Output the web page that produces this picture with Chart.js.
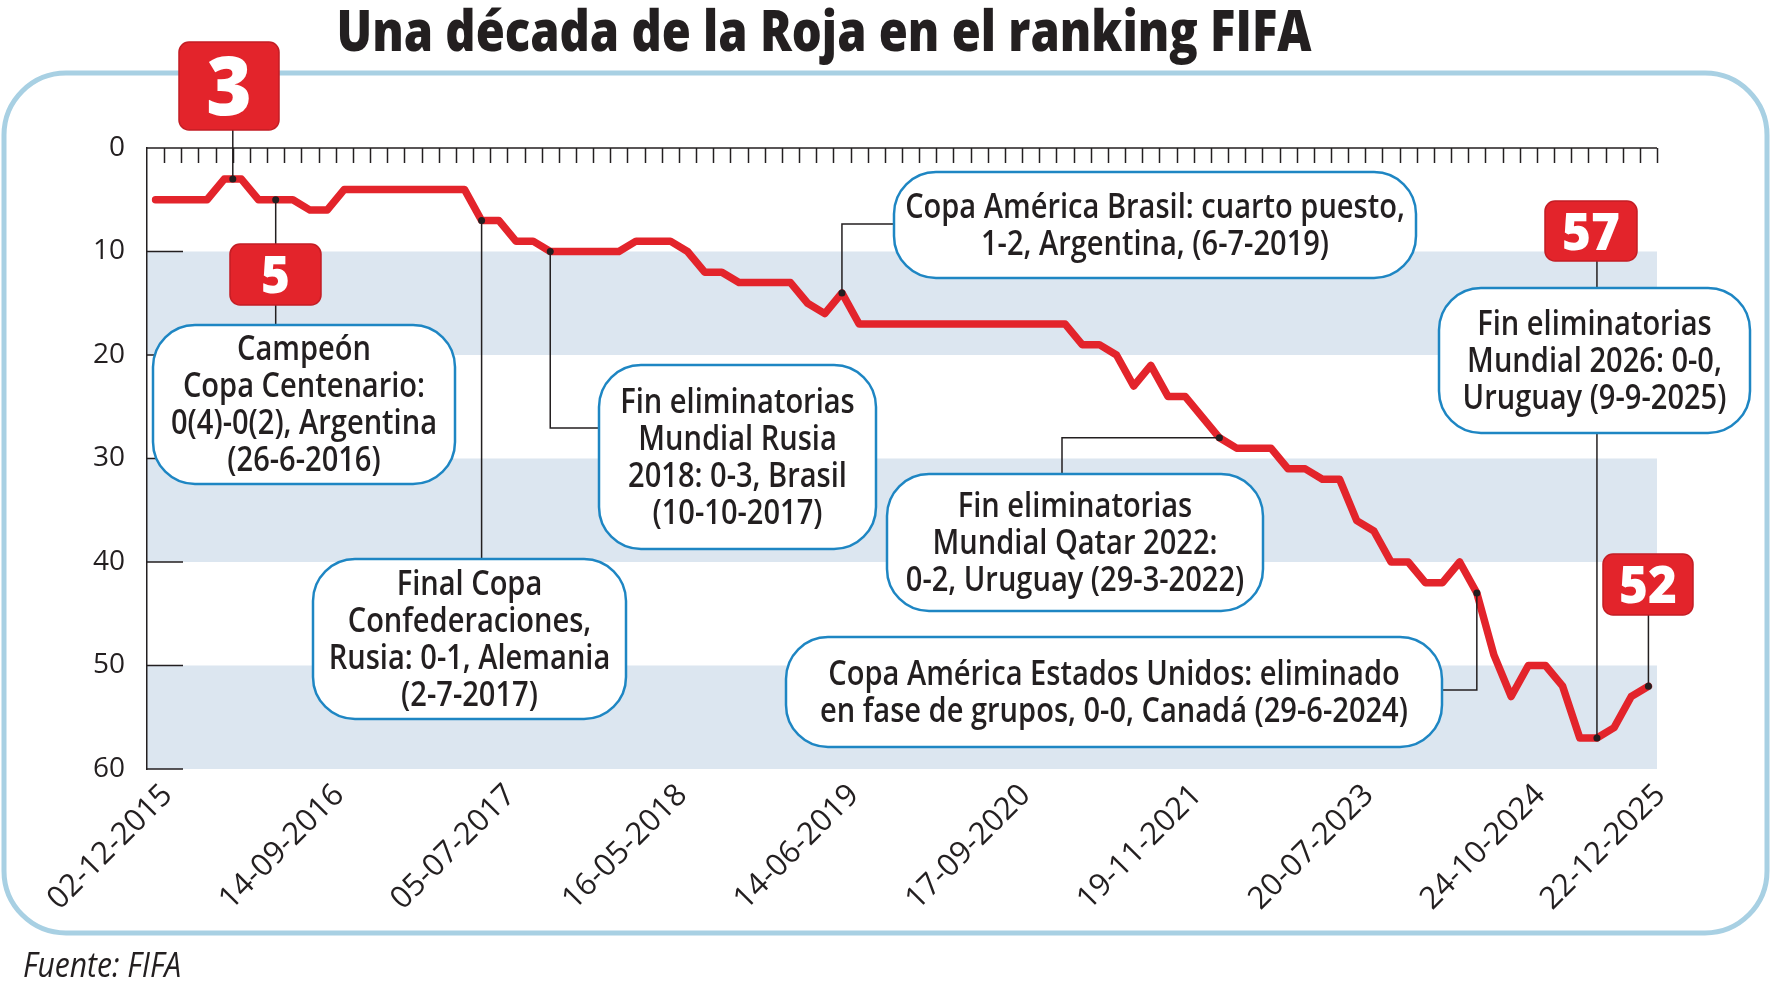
<!DOCTYPE html>
<html>
<head>
<meta charset="utf-8">
<script src="https://cdn.jsdelivr.net/npm/chart.js@4.4.1/dist/chart.umd.min.js"></script>
<style>
  html, body { margin: 0; padding: 0; background: #fff; }
  canvas { display: block; }
</style>
</head>
<body>
<canvas id="ranking" width="1774" height="988"></canvas>
<script>
// Ranking FIFA de Chile, una entrada por publicación del ranking
const ranking = [
  5, 5, 5, 5, 3, 3, 5, 5, 5, 6,
  6, 4, 4, 4, 4, 4, 4, 4, 4, 7,
  7, 9, 9, 10, 10, 10, 10, 10, 9, 9,
  9, 10, 12, 12, 13, 13, 13, 13, 15, 16,
  14, 17, 17, 17, 17, 17, 17, 17, 17, 17,
  17, 17, 17, 17, 19, 19, 20, 23, 21, 24,
  24, 26, 28, 29, 29, 29, 31, 31, 32, 32,
  36, 37, 40, 40, 42, 42, 40, 43, 49, 53,
  50, 50, 52, 57, 57, 56, 53, 52
];
const tickDates = ['02-12-2015', '14-09-2016', '05-07-2017', '16-05-2018', '14-06-2019',
  '17-09-2020', '19-11-2021', '20-07-2023', '24-10-2024', '22-12-2025'];
const tickIndex = [0, 10, 20, 30, 40, 50, 60, 70, 80, 87];
const yTicks = [0, 10, 20, 30, 40, 50, 60];
const shadedBands = [[10, 20], [30, 40], [50, 60]];

const title = 'Una década de la Roja en el ranking FIFA';
const source = 'Fuente: FIFA';

// textos de los recuadros
const calloutTexts = [
  ['Campeón', 'Copa Centenario:', '0(4)-0(2), Argentina', '(26-6-2016)'],
  ['Final Copa', 'Confederaciones,', 'Rusia: 0-1, Alemania', '(2-7-2017)'],
  ['Fin eliminatorias', 'Mundial Rusia', '2018: 0-3, Brasil', '(10-10-2017)'],
  ['Copa América Brasil: cuarto puesto,', '1-2, Argentina, (6-7-2019)'],
  ['Fin eliminatorias', 'Mundial Qatar 2022:', '0-2, Uruguay (29-3-2022)'],
  ['Copa América Estados Unidos: eliminado', 'en fase de grupos, 0-0, Canadá (29-6-2024)'],
  ['Fin eliminatorias', 'Mundial 2026: 0-0,', 'Uruguay (9-9-2025)']
];

const labels = ranking.map((_, i) => {
  const k = tickIndex.indexOf(i);
  return k >= 0 ? tickDates[k] : '';
});

const ink = '#231f20';
const red = '#e3242b';
const blue = '#1e86c3';
const bandColor = '#dce6f0';
const frameBlue = '#a8d0e3';
const FONT = '"Open Sans", "Noto Sans", sans-serif';
const SQUEEZE = 0.86;

function squeezed(ctx, s, x, y, font, sx, align) {
  ctx.save();
  ctx.font = font;
  ctx.textAlign = align || 'center';
  ctx.textBaseline = 'alphabetic';
  ctx.translate(x, y);
  ctx.scale(sx, 1);
  ctx.fillText(s, 0, 0);
  ctx.restore();
}

// layout of the notes (pixels), anchors come from the data
const callouts = [
  { rect: [153, 325, 302, 159] },
  { rect: [313, 559, 313, 160] },
  { rect: [599, 365, 277, 184] },
  { rect: [894, 172, 522, 106] },
  { rect: [887, 474, 376, 137] },
  { rect: [786, 637, 656, 110] },
  { rect: [1439, 288, 311, 145] }
];
const tags = [
  { idx: 4, rect: [179, 42, 100, 88], size: 82 },
  { idx: 7, rect: [230, 244, 91, 61], size: 52 },
  { idx: 84, rect: [1545, 201, 92, 60], size: 52 },
  { idx: 87, rect: [1603, 554, 90, 61], size: 52 }
];
const leaders = [
  { idx: 4.5, val: 4, steps: [['v', 130]] },
  { idx: 7, steps: [['v', 325]] },
  { idx: 19, steps: [['v', 559]] },
  { idx: 23, steps: [['v', 428], ['h', 599]] },
  { idx: 40, steps: [['v', 224], ['h', 894]] },
  { idx: 62, steps: [['h', 1062], ['v', 474]] },
  { idx: 77, steps: [['v', 690], ['h', 1442]] },
  { idx: 84, steps: [['v', 261]] },
  { idx: 87, steps: [['v', 615]] }
];

const backdrop = {
  id: 'backdrop',
  beforeDraw(chart) {
    const { ctx, chartArea: a, scales: { y } } = chart;
    ctx.save();
    // marco
    ctx.strokeStyle = frameBlue;
    ctx.lineWidth = 5;
    ctx.beginPath();
    ctx.roundRect(4, 73, 1763, 860, 62);
    ctx.stroke();
    // bandas
    ctx.fillStyle = bandColor;
    shadedBands.forEach(([from, to]) => {
      const y0 = y.getPixelForValue(from), y1 = y.getPixelForValue(to);
      ctx.fillRect(a.left, y0, a.right - a.left, y1 - y0);
    });
    // titulo
    ctx.fillStyle = ink;
    const tFont = '800 56px ' + FONT;
    ctx.font = tFont;
    const w = ctx.measureText(title).width;
    squeezed(ctx, title, 824, 51, tFont, 975 / w);
    squeezed(ctx, source, 23, 977, 'italic 35px ' + FONT, SQUEEZE, 'left');
    ctx.restore();
  }
};

const notes = {
  id: 'notes',
  afterDatasetsDraw(chart) {
    const { ctx, chartArea: a, scales: { x, y } } = chart;
    ctx.save();
    // eje superior con marcas por publicación
    const half = (x.getPixelForValue(1) - x.getPixelForValue(0)) / 2;
    ctx.strokeStyle = ink;
    ctx.lineWidth = 1.5;
    ctx.beginPath();
    ctx.moveTo(a.left, a.top);
    ctx.lineTo(a.right, a.top);
    for (let k = 1; k <= ranking.length; k++) {
      const px = Math.round(x.getPixelForValue(k) - half) + 0.5;
      ctx.moveTo(px, a.top);
      ctx.lineTo(px, a.top + 15);
    }
    yTicks.slice(1).forEach(v => {
      const py = y.getPixelForValue(v);
      ctx.moveTo(a.left, py);
      ctx.lineTo(a.left + 36, py);
    });
    ctx.stroke();

    // líneas guía
    ctx.lineWidth = 1.5;
    leaders.forEach(l => {
      const v = l.val !== undefined ? ranking[l.val] : ranking[l.idx];
      let px = x.getPixelForValue(l.idx), py = y.getPixelForValue(v);
      ctx.beginPath();
      ctx.moveTo(px, py);
      l.steps.forEach(([dir, t]) => {
        if (dir === 'v') py = t; else px = t;
        ctx.lineTo(px, py);
      });
      ctx.stroke();
    });
    ctx.fillStyle = ink;
    leaders.forEach(l => {
      const v = l.val !== undefined ? ranking[l.val] : ranking[l.idx];
      ctx.beginPath();
      ctx.arc(x.getPixelForValue(l.idx), y.getPixelForValue(v), 3.5, 0, Math.PI * 2);
      ctx.fill();
    });

    // recuadros
    callouts.forEach((c, i) => {
      const [bx, by, bw, bh] = c.rect;
      ctx.beginPath();
      ctx.roundRect(bx, by, bw, bh, 42);
      ctx.fillStyle = '#fff';
      ctx.fill();
      ctx.strokeStyle = blue;
      ctx.lineWidth = 2.5;
      ctx.stroke();
      ctx.fillStyle = ink;
      const lines = calloutTexts[i];
      const cy = by + bh / 2;
      lines.forEach((t, j) => {
        const ly = cy + (j - (lines.length - 1) / 2) * 37;
        squeezed(ctx, t, bx + bw / 2, ly + 11, '600 35px ' + FONT, 0.83);
      });
    });

    // cifras en rojo
    tags.forEach(t => {
      const [bx, by, bw, bh] = t.rect;
      ctx.beginPath();
      ctx.roundRect(bx, by, bw, bh, 10);
      ctx.fillStyle = red;
      ctx.fill();
      ctx.strokeStyle = '#c41d24';
      ctx.lineWidth = 1.5;
      ctx.stroke();
      ctx.fillStyle = '#fff';
      squeezed(ctx, String(ranking[t.idx]), bx + bw / 2, by + bh / 2 + t.size * 0.357,
        '800 ' + t.size + 'px ' + FONT, 0.95);
    });
    ctx.restore();
  }
};

new Chart(document.getElementById('ranking'), {
  type: 'line',
  data: {
    labels: labels,
    datasets: [{
      data: ranking,
      borderColor: red,
      borderWidth: 7.5,
      borderJoinStyle: 'round',
      borderCapStyle: 'round',
      pointRadius: 0,
      tension: 0,
      clip: false
    }]
  },
  options: {
    responsive: false,
    animation: false,
    devicePixelRatio: 1,
    layout: { padding: { top: 148, right: 117 } },
    plugins: {
      legend: { display: false },
      tooltip: { enabled: false }
    },
    scales: {
      x: {
        type: 'category',
        offset: true,
        grid: { display: false },
        border: { display: false },
        ticks: {
          autoSkip: false,
          maxRotation: 45,
          minRotation: 45,
          padding: 0,
          labelOffset: 12,
          color: ink,
          font: { family: FONT, size: 31 },
          callback: (v, i) => labels[i]
        },
        afterFit: s => { s.height = 219; }
      },
      y: {
        reverse: true,
        min: 0,
        max: 60,
        grid: { display: false },
        border: { display: true, color: ink, width: 1.5 },
        ticks: {
          stepSize: 10,
          padding: 14,
          color: ink,
          font: { family: FONT, size: 28 }
        },
        afterFit: s => { s.width = 147; }
      }
    }
  },
  plugins: [backdrop, notes]
});
</script>
</body>
</html>
